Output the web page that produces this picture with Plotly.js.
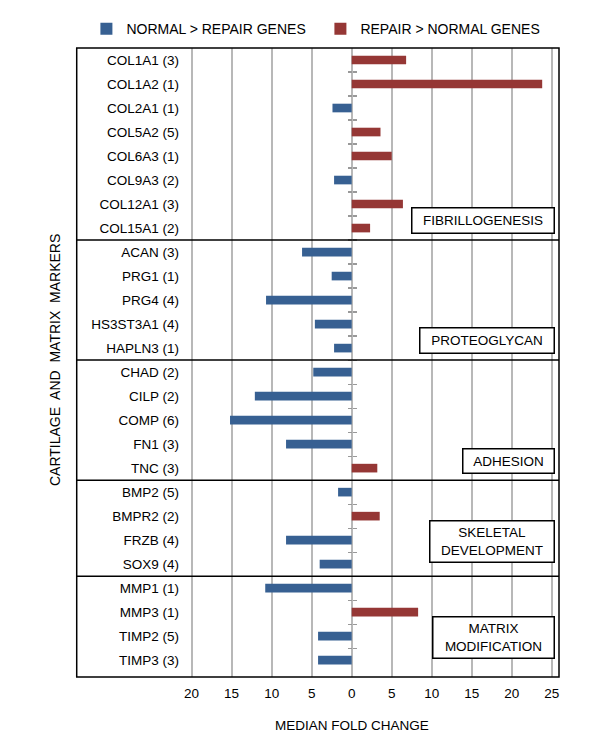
<!DOCTYPE html>
<html>
<head>
<meta charset="utf-8">
<script src="https://cdn.plot.ly/plotly-3.0.1.min.js"></script>
<style>
  body { margin: 0; background: #fff; }
</style>
</head>
<body>
<div id="chart" style="width:600px;height:750px;"></div>
<script>
// genes, top to bottom
const genes = [
  'COL1A1 (3)', 'COL1A2 (1)', 'COL2A1 (1)', 'COL5A2 (5)', 'COL6A3 (1)', 'COL9A3 (2)', 'COL12A1 (3)', 'COL15A1 (2)',
  'ACAN (3)', 'PRG1 (1)', 'PRG4 (4)', 'HS3ST3A1 (4)', 'HAPLN3 (1)',
  'CHAD (2)', 'CILP (2)', 'COMP (6)', 'FN1 (3)', 'TNC (3)',
  'BMP2 (5)', 'BMPR2 (2)', 'FRZB (4)', 'SOX9 (4)',
  'MMP1 (1)', 'MMP3 (1)', 'TIMP2 (5)', 'TIMP3 (3)'
];
// median fold change, negative = normal > repair
const foldChange = [
  6.8, 23.8, -2.4, 3.6, 5.0, -2.2, 6.4, 2.3,
  -6.2, -2.5, -10.7, -4.6, -2.2,
  -4.8, -12.1, -15.2, -8.2, 3.2,
  -1.7, 3.5, -8.2, -4.0,
  -10.8, 8.3, -4.2, -4.2
];
const groupNames = ['FIBRILLOGENESIS', 'PROTEOGLYCAN', 'ADHESION', 'SKELETAL<br>DEVELOPMENT', 'MATRIX<br>MODIFICATION'];
const groupSizes = [8, 5, 5, 4, 4];
const tickVals = [-20, -15, -10, -5, 0, 5, 10, 15, 20, 25];
const tickText = ['20', '15', '10', '5', '0', '5', '10', '15', '20', '25'];

const BLUE = '#376092';
const RED = '#953735';
const FONT = 'Liberation Sans, Arial, sans-serif';

const neg = { x: [], y: [] };
const pos = { x: [], y: [] };
genes.forEach((g, i) => {
  const t = foldChange[i] < 0 ? neg : pos;
  t.x.push(foldChange[i]);
  t.y.push(g);
});

const xMin = -20.7, xMax = 25.9;
const frameLeft = -0.293;
const zeroPos = (0 - xMin) / (xMax - xMin);

const traces = [
  { type: 'bar', orientation: 'h', name: 'NORMAL > REPAIR GENES', x: neg.x, y: neg.y,
    marker: { color: BLUE }, width: 0.36 },
  { type: 'bar', orientation: 'h', name: 'REPAIR > NORMAL GENES', x: pos.x, y: pos.y,
    marker: { color: RED }, width: 0.36 },
  // empty traces so the two tick-only axes on the zero line get drawn
  { type: 'scatter', x: [], y: [], yaxis: 'y2', showlegend: false, hoverinfo: 'skip' },
  { type: 'scatter', x: [], y: [], yaxis: 'y3', showlegend: false, hoverinfo: 'skip' }
];

// frame, group separators
const shapes = [
  { type: 'rect', xref: 'paper', yref: 'paper', x0: frameLeft, x1: 1, y0: 0, y1: 1,
    line: { color: '#000', width: 1.5 } }
];
const annotations = [];
let start = 0;
const boxSizes = [[135, 18], [127, 18], [84, 17], [117, 34], [114, 34]];
groupSizes.forEach((n, gi) => {
  const end = start + n;
  if (gi < groupSizes.length - 1) {
    shapes.push({ type: 'line', xref: 'paper', yref: 'y', x0: frameLeft, x1: 1,
      y0: end - 0.5, y1: end - 0.5, line: { color: '#000', width: 1.5 } });
  }
  const lastRow = end - 1;
  annotations.push({
    xref: 'paper', yref: 'y', x: 0.988, xanchor: 'right',
    y: gi < 3 ? lastRow - 0.3 : lastRow - 0.95, yanchor: 'middle',
    text: groupNames[gi], showarrow: false,
    width: boxSizes[gi][0], height: boxSizes[gi][1],
    bordercolor: '#000', borderwidth: 1.5, borderpad: 3, bgcolor: '#fff',
    font: { family: FONT, size: 13.5, color: '#000' }
  });
  start = end;
});
const zeroTicks = [];
for (let i = 0; i < genes.length - 1; i++) zeroTicks.push(i + 0.5);

annotations.push({
  xref: 'paper', yref: 'paper', x: (55 - 186) / 373, xanchor: 'center',
  y: (677 - 360) / 629, yanchor: 'middle',
  text: 'CARTILAGE\u00a0 AND\u00a0 MATRIX\u00a0 MARKERS', textangle: -90, showarrow: false,
  font: { family: FONT, size: 14, color: '#000' }
});
annotations.push({
  xref: 'x', yref: 'paper', x: 0, y: (677 - 725) / 629, yanchor: 'middle',
  text: 'MEDIAN FOLD CHANGE', showarrow: false,
  font: { family: FONT, size: 13.5, color: '#000' }
});

const zeroAxis = {
  overlaying: 'y', anchor: 'free', position: zeroPos, range: [25.7, -0.5],
  tickmode: 'array', tickvals: zeroTicks, ticks: 'outside', ticklen: 4, tickwidth: 1.2, tickcolor: '#999',
  showticklabels: false, showgrid: false, showline: false, zeroline: false, fixedrange: true
};

const layout = {
  width: 600, height: 750,
  margin: { l: 186, r: 41, t: 48, b: 73 },
  paper_bgcolor: '#fff', plot_bgcolor: '#fff',
  font: { family: FONT, size: 13.5, color: '#000' },
  barmode: 'relative',
  showlegend: true,
  legend: {
    orientation: 'h', x: -0.267, xanchor: 'left', y: 1.03, yanchor: 'middle',
    font: { family: FONT, size: 14, color: '#000' }, entrywidth: 189
  },
  xaxis: {
    range: [xMin, xMax], tickvals: tickVals, ticktext: tickText,
    showgrid: true, gridcolor: '#b8b8b8', gridwidth: 2,
    zeroline: false, showline: false, ticks: '', ticklabelstandoff: 6,
    tickfont: { family: FONT, size: 13.5, color: '#000' }, fixedrange: true
  },
  yaxis: {
    type: 'category', categoryorder: 'array', categoryarray: genes,
    range: [25.7, -0.5], showgrid: false, zeroline: false, showline: false,
    ticks: '', ticklabelstandoff: 6,
    tickfont: { family: FONT, size: 13.5, color: '#000' }, fixedrange: true
  },
  yaxis2: Object.assign({ side: 'left' }, zeroAxis),
  yaxis3: Object.assign({ side: 'right' }, zeroAxis),
  shapes: shapes,
  annotations: annotations
};

Plotly.newPlot('chart', traces, layout, { displayModeBar: false, staticPlot: true });
</script>
</body>
</html>
